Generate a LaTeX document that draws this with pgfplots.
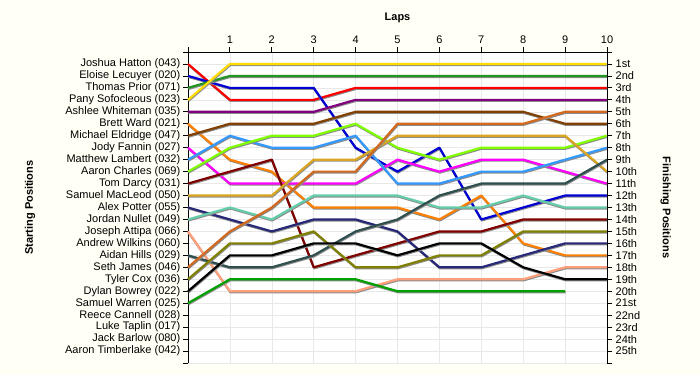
\documentclass[border=0pt]{standalone}
\usepackage{pgfplots}
\pgfplotsset{compat=1.18}
\usepackage{pgfplotstable}
\usepackage{fontspec}
\setmainfont{Liberation Sans}
\definecolor{bgc}{RGB}{255,255,245}
\definecolor{cRed}{RGB}{255,0,0}
\definecolor{cBlue}{RGB}{0,0,210}
\definecolor{cGreen}{RGB}{34,150,34}
\definecolor{cYellow}{RGB}{255,220,0}
\definecolor{cPurple}{RGB}{128,0,128}
\definecolor{cOrange}{RGB}{255,128,0}
\definecolor{cBrown}{RGB}{128,64,0}
\definecolor{cMagenta}{RGB}{255,0,255}
\definecolor{cLBlue}{RGB}{51,153,255}
\definecolor{cLime}{RGB}{128,255,0}
\definecolor{cMaroon}{RGB}{128,0,0}
\definecolor{cGold}{RGB}{218,165,32}
\definecolor{cNavy}{RGB}{40,40,120}
\definecolor{cTeal}{RGB}{102,205,170}
\definecolor{cSalmon}{RGB}{255,160,122}
\definecolor{cSlate}{RGB}{47,79,79}
\definecolor{cSienna}{RGB}{210,105,30}
\definecolor{cOlive}{RGB}{128,128,0}
\definecolor{cBlack}{RGB}{0,0,0}
\definecolor{cGreenB}{RGB}{0,160,0}
\pgfplotstableread{
lap red blue green yellow purple orange brown magenta lblue lime maroon gold navy teal salmon slate sienna olive black greenb
0 1 2 3 4 5 6 7 8 9 10 11 12 13 14 15 17 18 19 20 21
1 4 3 2 1 5 9 6 11 7 8 10 12 14 13 20 18 15 16 17 19
2 4 3 2 1 5 10 6 11 8 7 9 12 15 14 20 18 13 16 17 19
3 4 3 2 1 5 13 6 11 8 7 18 9 14 12 20 17 10 15 16 19
4 3 8 2 1 4 13 5 11 7 6 17 9 14 12 20 15 10 18 16 19
5 3 10 2 1 4 13 5 9 11 8 16 7 15 12 19 14 6 18 17 20
6 3 8 2 1 4 14 5 10 11 9 15 7 18 13 19 12 6 17 16 20
7 3 14 2 1 4 12 5 9 10 8 15 7 18 13 19 11 6 17 16 20
8 3 13 2 1 4 16 5 9 10 8 14 7 17 12 19 11 6 15 18 20
9 3 12 2 1 4 17 6 10 9 8 14 7 16 13 18 11 5 15 19 20
10 3 12 2 1 4 17 6 11 8 7 14 10 16 13 18 9 5 15 19 nan
}\data
\newcommand{\lapline}[2]{%
  \addplot[black!45, line width=2.2pt, line join=round, transform canvas={xshift=0.5pt,yshift=-1pt}] table[x=lap,y=#2]{\data};
  \addplot[#1, line width=2.2pt, line join=round] table[x=lap,y=#2]{\data};
}
\begin{document}
\begin{tikzpicture}
\fill[bgc] (-188bp,-12bp) rectangle (512bp,363bp);
\begin{axis}[
  scale only axis, width=419bp, height=311bp,
  at={(0,0)}, anchor=south west,
  axis background/.style={fill=white},
  xmin=0, xmax=10, ymin=0, ymax=26, y dir=reverse,
  unbounded coords=jump,
  axis x line*=top, axis y line*=left,
  xtick={0,...,10}, xticklabels={,1,2,3,4,5,6,7,8,9,10},
  ytick={0,...,26},
  yticklabels={,Joshua Hatton (043),Eloise Lecuyer (020),Thomas Prior (071),Pany Sofocleous (023),Ashlee Whiteman (035),Brett Ward (021),Michael Eldridge (047),Jody Fannin (027),Matthew Lambert (032),Aaron Charles (069),Tom Darcy (031),Samuel MacLeod (050),Alex Potter (055),Jordan Nullet (049),Joseph Attipa (066),Andrew Wilkins (060),Aidan Hills (029),Seth James (046),Tyler Cox (036),Dylan Bowrey (022),Samuel Warren (025),Reece Cannell (028),Luke Taplin (017),Jack Barlow (080),Aaron Timberlake (042),},
  tick style={black, line width=0.8pt},
  major tick length=5bp,
  tick align=outside,
  axis line style={black, line width=0.9pt, -},
  grid=major, grid style={black!9, line width=0.6pt},
  tick label style={font=\fontsize{11bp}{12bp}\selectfont},
  yticklabel style={inner sep=2.5bp},
  xticklabel style={inner sep=3bp},
  /pgf/number format/assume math mode=true,
  clip=false,
  ylabel={\bfseries Starting Positions},
  ylabel style={at={(axis description cs:-0.377,0.5)}, rotate=0, anchor=center, font=\fontsize{11bp}{12bp}\selectfont},
]
\lapline{cRed}{red}
\lapline{cBlue}{blue}
\lapline{cGreen}{green}
\lapline{cYellow}{yellow}
\lapline{cPurple}{purple}
\lapline{cOrange}{orange}
\lapline{cBrown}{brown}
\lapline{cMagenta}{magenta}
\lapline{cLBlue}{lblue}
\lapline{cLime}{lime}
\lapline{cMaroon}{maroon}
\lapline{cGold}{gold}
\lapline{cNavy}{navy}
\lapline{cTeal}{teal}
\lapline{cSalmon}{salmon}
\lapline{cSlate}{slate}
\lapline{cSienna}{sienna}
\lapline{cOlive}{olive}
\lapline{cBlack}{black}
\lapline{cGreenB}{greenb}
\end{axis}
\begin{axis}[
  scale only axis, width=419bp, height=311bp,
  at={(0,0)}, anchor=south west,
  xmin=0, xmax=10, ymin=0, ymax=26, y dir=reverse,
  axis x line=none, axis y line*=right,
  ytick={0,...,26},
  yticklabels={,1st,2nd,3rd,4th,5th,6th,7th,8th,9th,10th,11th,12th,13th,14th,15th,16th,17th,18th,19th,20th,21st,22nd,23rd,24th,25th,},
  tick style={black, line width=0.8pt},
  major tick length=5bp,
  tick align=outside,
  axis line style={black, line width=0.9pt, -},
  tick label style={font=\fontsize{11bp}{12bp}\selectfont},
  yticklabel style={inner sep=3.5bp},
  ylabel={\bfseries Finishing Positions},
  ylabel style={at={(axis description cs:1.14,0.5)}, rotate=180, anchor=center, font=\fontsize{11bp}{12bp}\selectfont},
]
\end{axis}
\node[font=\fontsize{11bp}{12bp}\selectfont\bfseries] at (209.5bp,345bp) {Laps};
\end{tikzpicture}
\end{document}
